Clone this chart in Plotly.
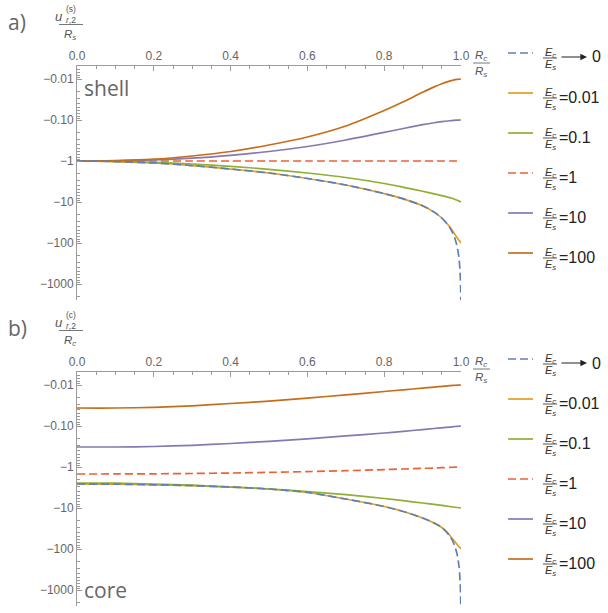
import plotly.graph_objects as go

W, H = 608, 613

# ---------------- data ----------------
X = [0, 0.1, 0.2, 0.3, 0.4, 0.5, 0.6, 0.7, 0.8, 0.85, 0.9, 0.93, 0.95, 0.97, 0.98, 0.99, 1.0]
X_VOID = [0, 0.1, 0.2, 0.3, 0.4, 0.5, 0.6, 0.7, 0.8, 0.85, 0.9, 0.93, 0.95, 0.97, 0.98, 0.985, 0.99,
          0.995, 0.998, 0.999, 0.9995, 0.9999]

# panel a) shell  u_{r,2}^{(s)} / R_s
SHELL_0 = [-1.00, -1.03, -1.12, -1.29, -1.57, -1.96, -2.67, -3.85, -6.24, -8.40, -12.38, -17.63, -24.56,
           -40.95, -61.7, -82.1, -123.1, -245.6, -616.6, -1231, -2456, -12300]
SHELL_001 = [-1.00, -1.03, -1.12, -1.29, -1.57, -1.96, -2.67, -3.85, -6.24, -8.40, -12.38, -17.63, -24.56,
             -39.7, -53.9, -74.7, -100]
SHELL_01 = [-1.0, -1.017, -1.076, -1.184, -1.347, -1.594, -1.962, -2.526, -3.54, -4.38, -5.48, -6.31,
            -6.98, -7.81, -8.31, -9.04, -10]
SHELL_1 = [-1, -1, -1, -1, -1, -1, -1, -1, -1, -1, -1, -1, -1, -1, -1, -1, -1]
SHELL_10 = [-1.0, -0.989, -0.945, -0.8545, -0.7261, -0.5864, -0.4429, -0.3075, -0.2012, -0.1608, -0.1302,
            -0.1167, -0.1097, -0.1043, -0.1023, -0.1008, -0.1]
SHELL_100 = [-1.0, -0.978, -0.904, -0.755, -0.5864, -0.4072, -0.2598, -0.1401, -0.05864, -0.03598,
             -0.02111, -0.01559, -0.01302, -0.01125, -0.01063, -0.01023, -0.01]

# panel b) core  u_{r,2}^{(c)} / R_c
CORE_0 = [-2.598, -2.628, -2.718, -2.858, -3.075, -3.44, -4.188, -6.033, -9.193, -12.17, -17.54, -23.22,
          -29.9, -46.85, -69.02, -91.92, -137.7, -274.8, -690.2, -1377, -2748, -13770]
CORE_001 = [-2.598, -2.628, -2.718, -2.858, -3.075, -3.44, -4.188, -6.033, -9.193, -12.17, -17.54, -23.22,
            -29.9, -45.55, -59.66, -77.68, -100]
CORE_01 = [-2.46, -2.48, -2.60, -2.78, -3.08, -3.44, -3.96, -4.74, -5.87, -6.64, -7.55, -8.17, -8.64,
           -9.19, -9.455, -9.72, -10]
CORE_1 = [-1.482, -1.477, -1.465, -1.440, -1.401, -1.354, -1.295, -1.231, -1.157, -1.119, -1.082, -1.058,
          -1.040, -1.023, -1.014, -1.006, -1.0]
CORE_10 = [-0.325, -0.325, -0.316, -0.296, -0.267, -0.236, -0.205, -0.175, -0.148, -0.135, -0.122,
           -0.115, -0.111, -0.106, -0.104, -0.102, -0.1]
CORE_100 = [-0.0364, -0.0364, -0.0350, -0.0322, -0.0283, -0.0246, -0.0208, -0.0175, -0.0144, -0.0131,
            -0.0119, -0.0113, -0.0108, -0.0104, -0.0102, -0.0101, -0.01]

RATIO_LABELS = ["0", "=0.01", "=0.1", "=1", "=10", "=100"]
COLORS = ["#5E81B5", "#E19C24", "#8FB032", "#EB6235", "#8778B3", "#C56E1A"]
DASHES = ["8px,4px", "solid", "solid", "8px,4px", "solid", "solid"]

Y_TICK_VALUES = [-0.01, -0.1, -1, -10, -100, -1000]
Y_TICK_TEXT = ["\u22120.01", "\u22120.10", "\u22121", "\u221210", "\u2212100", "\u22121000"]

# ---------------- style ----------------
AX = "#9b9b9b"
TXT = "#666666"
FONT = "Liberation Sans"
LW = 1.7


def px(xp):
    return xp / W


def py(yp):
    return 1 - yp / H


def note(x, y, text, size, color, family=FONT, xanchor="center", yanchor="middle"):
    return dict(x=px(x), y=py(y), xref="paper", yref="paper", text=text, showarrow=False,
                xanchor=xanchor, yanchor=yanchor, font=dict(size=size, color=color, family=family))


PANELS = [
    dict(xa="x", ya="y", top=66, xs=[X_VOID, X, X, X, X, X],
         ys=[SHELL_0, SHELL_001, SHELL_01, SHELL_1, SHELL_10, SHELL_100],
         tag="a)", sup="(s)", den="s", word="shell", word_y=88),
    dict(xa="x2", ya="y2", top=372, xs=[X_VOID, X, X, X, X, X],
         ys=[CORE_0, CORE_001, CORE_01, CORE_1, CORE_10, CORE_100],
         tag="b)", sup="(c)", den="c", word="core", word_y=590),
]

fig = go.Figure()
order = [1, 2, 3, 4, 5, 0]
for p in PANELS:
    for i in order:
        fig.add_trace(go.Scatter(
            x=p["xs"][i], y=[-v for v in p["ys"][i]], mode="lines",
            line=dict(color=COLORS[i], width=LW, dash=DASHES[i], shape="spline", smoothing=0.8),
            xaxis=p["xa"], yaxis=p["ya"], hoverinfo="skip", showlegend=False))

X0, X1 = 77, 461
PLOT_H = 234
minor_y = [m * 10.0 ** e for e in range(-3, 4) for m in range(2, 10)]

layout = dict(template="none", width=W, height=H, margin=dict(l=0, r=0, t=0, b=0, pad=0),
              autosize=False, paper_bgcolor="white", plot_bgcolor="white", showlegend=False)

annotations = []
shapes = []
for k, p in enumerate(PANELS):
    sfx = "" if k == 0 else "2"
    top = p["top"]
    bot = top + PLOT_H
    layout["xaxis" + sfx] = dict(
        domain=[px(X0), px(X1)], range=[0, 1], side="top", anchor="y" + sfx, automargin=False,
        showline=True, linecolor=AX, linewidth=1, ticks="inside", ticklen=5, tickwidth=1,
        tickcolor=AX, dtick=0.2, tick0=0, tickformat=".1f",
        tickfont=dict(size=12, color=TXT, family=FONT),
        minor=dict(ticks="inside", ticklen=3, dtick=0.05, tick0=0, tickcolor=AX),
        showgrid=False, zeroline=False)
    layout["yaxis" + sfx] = dict(
        domain=[py(bot), py(top)], type="log", range=[3.39, -2.317], anchor="x" + sfx,
        automargin=False,
        showline=True, linecolor=AX, linewidth=1, ticks="inside", ticklen=5, tickwidth=1,
        tickcolor=AX, tickmode="array", tickvals=[-v for v in Y_TICK_VALUES], ticktext=Y_TICK_TEXT,
        tickfont=dict(size=12, color=TXT, family=FONT),
        minor=dict(ticks="inside", ticklen=3, tickmode="array", tickvals=minor_y, tickcolor=AX),
        showgrid=False, zeroline=False)

    off = top - 66
    annotations.append(note(6, 22 + off, p["tag"], 21, TXT, "Open Sans", xanchor="left"))
    # y-axis label fraction
    annotations.append(note(64, 16 + off, "<i>u</i>", 13, "#555", xanchor="right"))
    annotations.append(note(64, 9 + off, p["sup"], 8.5, "#555", xanchor="left"))
    annotations.append(note(64, 19.5 + off, "<i>r</i>,2", 8.5, "#555", xanchor="left"))
    shapes.append(dict(type="line", xref="paper", yref="paper", x0=px(59), x1=px(83),
                       y0=py(24.5 + off), y1=py(24.5 + off), line=dict(color="#777", width=1)))
    annotations.append(note(70, 35 + off, "<i>R<sub>" + p["den"] + "</sub></i>", 11.5, "#555"))
    # x-axis label fraction
    annotations.append(note(481, 56 + off, "<i>R<sub>c</sub></i>", 11.5, "#555"))
    shapes.append(dict(type="line", xref="paper", yref="paper", x0=px(473), x1=px(490),
                       y0=py(63 + off), y1=py(63 + off), line=dict(color="#777", width=1)))
    annotations.append(note(481, 72 + off, "<i>R<sub>s</sub></i>", 11.5, "#555"))
    # shell / core word
    annotations.append(note(82, p["word_y"], p["word"], 21, TXT, "Open Sans", xanchor="left"))

    # legend
    for i in range(6):
        L = 53 + off + 40 * i
        shapes.append(dict(type="line", xref="paper", yref="paper", x0=px(508), x1=px(533),
                           y0=py(L), y1=py(L),
                           line=dict(color=COLORS[i], width=LW, dash=DASHES[i])))
        annotations.append(note(550, L, "<i>E<sub>c</sub></i>", 11, "#333"))
        shapes.append(dict(type="line", xref="paper", yref="paper", x0=px(543), x1=px(557),
                           y0=py(L + 5), y1=py(L + 5), line=dict(color="#555", width=1)))
        annotations.append(note(550, L + 12, "<i>E<sub>s</sub></i>", 11, "#333"))
        if i == 0:
            annotations.append(dict(x=px(587), y=py(L + 4), xref="paper", yref="paper",
                                    ax=-27, ay=0, text="", showarrow=True,
                                    arrowhead=2, arrowsize=1.1, arrowwidth=1.2, arrowcolor="#222"))
            annotations.append(note(590, L + 4, RATIO_LABELS[i], 16, "#222", xanchor="left"))
        else:
            annotations.append(note(557, L + 4, RATIO_LABELS[i], 16, "#222", xanchor="left"))

layout["annotations"] = annotations
layout["shapes"] = shapes
fig.update_layout(**layout)
fig.write_html("out.html", config={"displayModeBar": False},
               post_script="document.body.style.margin='0px';document.body.style.overflow='hidden';")
